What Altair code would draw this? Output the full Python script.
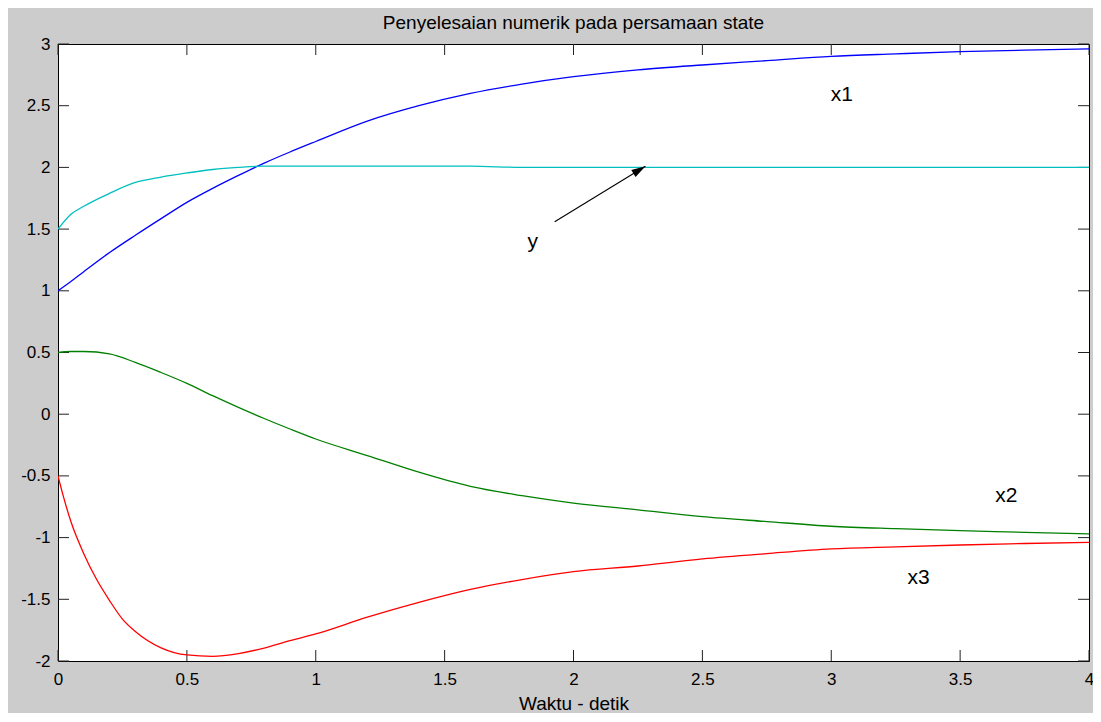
import altair as alt
import pandas as pd

# ---- data ----
t_main = [0, 0.05, 0.1, 0.2, 0.3, 0.4, 0.5, 0.6, 0.7, 0.8, 0.9, 1.0, 1.2, 1.4, 1.6,
          1.8, 2.0, 2.25, 2.5, 2.75, 3.0, 3.25, 3.5, 3.75, 4.0]
x1_vals = [1.0, 1.075, 1.155, 1.31, 1.45, 1.585, 1.717, 1.83, 1.935, 2.035, 2.125, 2.21,
           2.375, 2.50, 2.60, 2.675, 2.735, 2.79, 2.83, 2.865, 2.90, 2.92, 2.938, 2.95, 2.96]
x2_vals = [0.5, 0.508, 0.508, 0.488, 0.42, 0.338, 0.25, 0.15, 0.055, -0.035, -0.12, -0.201,
           -0.335, -0.47, -0.585, -0.66, -0.72, -0.775, -0.83, -0.87, -0.908, -0.928,
           -0.944, -0.957, -0.97]
y_vals = [1.5, 1.62, 1.685, 1.79, 1.878, 1.922, 1.955, 1.983, 2.0, 2.01, 2.01, 2.01,
          2.01, 2.01, 2.01, 2.0, 2.0, 2.0, 2.0, 2.0, 2.0, 2.0, 2.0, 2.0, 2.0]
t_x3 = [0, 0.02, 0.05, 0.1, 0.15, 0.2, 0.25, 0.3, 0.4, 0.5, 0.6, 0.7, 0.8, 0.9, 1.0,
        1.2, 1.4, 1.6, 1.8, 2.0, 2.25, 2.5, 2.75, 3.0, 3.25, 3.5, 3.75, 4.0]
x3_vals = [-0.5, -0.66, -0.87, -1.13, -1.34, -1.51, -1.66, -1.76, -1.893, -1.951, -1.962,
           -1.94, -1.895, -1.835, -1.781, -1.645, -1.525, -1.42, -1.34, -1.276, -1.23,
           -1.173, -1.13, -1.092, -1.075, -1.06, -1.048, -1.038]

series_names = ["x1", "x2", "x3", "y"]
series_colors = ["#0000ff", "#008000", "#ff0000", "#00bfbf"]

label_text = ["x1", "x2", "x3", "y"]
label_t = [3.041, 3.679, 3.339, 1.842]
label_v = [2.538, -0.711, -1.376, 1.35]

arrow_t = [1.927, 2.279]
arrow_v = [1.56, 2.009]

ticks_x = [0, 0.5, 1, 1.5, 2, 2.5, 3, 3.5, 4]
ticks_y = [-2, -1.5, -1, -0.5, 0, 0.5, 1, 1.5, 2, 2.5, 3]

title_text = "Penyelesaian numerik pada persamaan state"
xlabel_text = "Waktu - detik"

# ---- tables ----
rows = []
for name, ts, vs in [("x1", t_main, x1_vals), ("x2", t_main, x2_vals),
                     ("x3", t_x3, x3_vals), ("y", t_main, y_vals)]:
    for t, v in zip(ts, vs):
        rows.append({"series": name, "t": t, "v": v})
df = pd.DataFrame(rows)
df_labels = pd.DataFrame({"t": label_t, "v": label_v, "label": label_text})
df_arrow = pd.DataFrame({"t": arrow_t, "v": arrow_v})
df_head = df_arrow.iloc[[1]]
df_tx = pd.DataFrame({"t": ticks_x})
df_ty = pd.DataFrame({"v": ticks_y})

W, H, TL = 1031, 617, 11
FONT = "Liberation Sans"

xscale = alt.Scale(domain=[0, 4], nice=False, zero=False)
yscale = alt.Scale(domain=[-2, 3], nice=False, zero=False)
xaxis = alt.Axis(values=ticks_x, labelExpr="'' + datum.value", ticks=False, domain=False,
                 grid=False, labelPadding=10, labelFontSize=17, labelFlush=False,
                 labelColor="black", title=xlabel_text, titleFontSize=19,
                 titleFontWeight="normal", titleColor="black", titlePadding=7,
                 labelFont=FONT, titleFont=FONT)
yaxis = alt.Axis(values=ticks_y, labelExpr="'' + datum.value", ticks=False, domain=False,
                 grid=False, labelPadding=8, labelFontSize=17, labelFlush=False,
                 labelColor="black", title=None, labelFont=FONT)

X = alt.X("t:Q", scale=xscale, axis=xaxis)
Y = alt.Y("v:Q", scale=yscale, axis=yaxis)

lines = alt.Chart(df).mark_line(strokeWidth=1.3, clip=True, interpolate="monotone").encode(
    x=X, y=Y,
    color=alt.Color("series:N", scale=alt.Scale(domain=series_names, range=series_colors),
                    legend=None),
    order="t:Q",
)

labels = alt.Chart(df_labels).mark_text(fontSize=21, font=FONT, color="black",
                                        align="center", baseline="alphabetic").encode(
    x=X, y=Y, text="label:N")

arrow_line = alt.Chart(df_arrow).mark_line(color="black", strokeWidth=1.1).encode(x=X, y=Y)
arrow_head = alt.Chart(df_head).mark_point(
    shape="M0,0L0.6,2L-0.6,2Z", size=196, angle=59, filled=True, color="black",
    opacity=1, strokeWidth=0).encode(x=X, y=Y)

tick_col = "#222222"
bot_ticks = alt.Chart(df_tx).mark_rule(color=tick_col, strokeWidth=1).encode(
    x=X, y=alt.value(H), y2=alt.value(H - TL))
top_ticks = alt.Chart(df_tx).mark_rule(color=tick_col, strokeWidth=1).encode(
    x=X, y=alt.value(0), y2=alt.value(TL))
left_ticks = alt.Chart(df_ty).mark_rule(color=tick_col, strokeWidth=1).encode(
    y=Y, x=alt.value(0), x2=alt.value(TL))
right_ticks = alt.Chart(df_ty).mark_rule(color=tick_col, strokeWidth=1).encode(
    y=Y, x=alt.value(W), x2=alt.value(W - TL))

chart = alt.layer(
    bot_ticks, top_ticks, left_ticks, right_ticks, lines, arrow_line, arrow_head, labels
).properties(
    width=W, height=H,
    title=alt.TitleParams(text=title_text, fontSize=19, fontWeight="normal", font=FONT,
                          color="black", anchor="middle", baseline="alphabetic",
                          offset=11, dy=24),
    autosize=alt.AutoSizeParams(type="none"),
    padding={"left": 50, "top": 36, "right": 4, "bottom": 52},
    background="#cccccc",
).configure_view(
    fill="white", stroke="black", strokeWidth=1
)

chart.save("out.html", embed_options={"renderer": "svg", "actions": False})
